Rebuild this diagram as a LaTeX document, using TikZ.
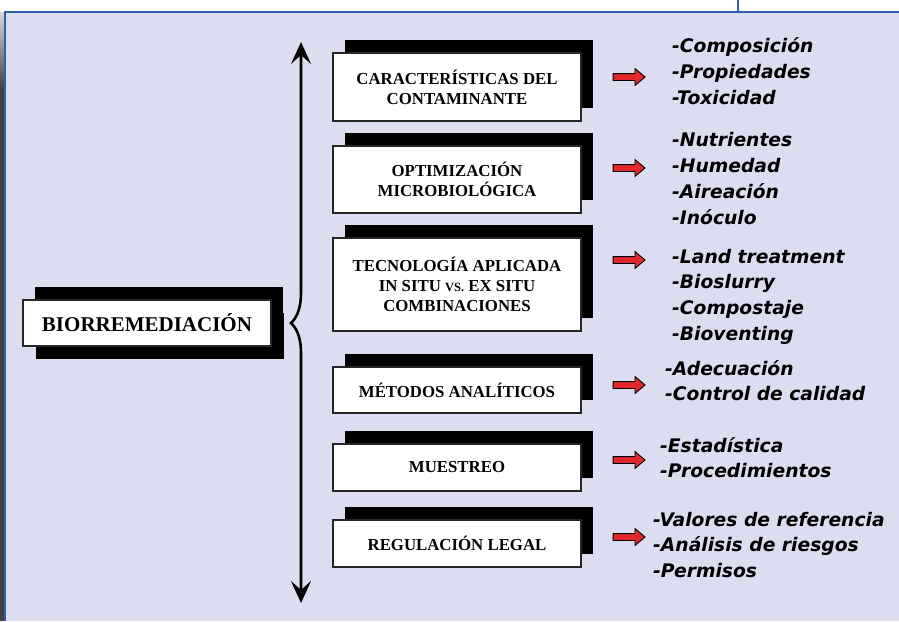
\documentclass[tikz,border=0pt]{standalone}
\usepackage{fontspec}
\setmainfont{Liberation Serif}
\newfontfamily\listfont{DejaVu Sans Bold Oblique}
\usetikzlibrary{shadows,shapes.arrows,arrows.meta}
\definecolor{fondo}{RGB}{220,221,240}
\definecolor{borde}{RGB}{45,95,170}
\definecolor{rojo}{RGB}{225,40,45}

\begin{document}
\begin{tikzpicture}[x=1pt,y=-1pt,
    caja/.style={rectangle, draw=black!85, line width=1.1pt, fill=white,
        minimum width=248pt, align=center, inner sep=2pt,
        font=\fontsize{16.8}{20}\selectfont\bfseries,
        drop shadow={shadow xshift=12pt, shadow yshift=13pt, fill=black, opacity=1}},
    flecha/.style={single arrow, draw=black, line width=0.9pt, fill=rojo,
        inner xsep=0pt, inner ysep=3pt, minimum height=32pt,
        single arrow head extend=5pt, single arrow tip angle=80},
    lista/.style={anchor=west, align=left, inner sep=0pt,
        font=\listfont\fontsize{18.7}{25.7}\selectfont},
    llave/.style={line width=2.6pt,
        {Stealth[length=22pt,width=20pt,inset=9pt]}-{Stealth[length=22pt,width=20pt,inset=9pt]}}]
            \useasboundingbox (0,0) rectangle (899,621);
            % Frame
            \fill[white] (0,0) rectangle (899,621);
            \shade[top color=black!15, bottom color=black!75] (0,12) rectangle (5,90);
            \fill[black!75] (0,90) rectangle (5,621);
            \fill[fondo] (5,12) rectangle (899,621);
            \draw[borde, line width=2pt] (5,621) -- (5,12) -- (899,12);
            \draw[borde, line width=1.5pt] (738,0) -- (738,12);

            % Nodes
            \node[caja, minimum height=46pt, font=\fontsize{21}{24}\selectfont\bfseries,
                drop shadow={shadow xshift=13pt, shadow yshift=-13pt, fill=black, opacity=1}]
                (bio) at (147,323) {BIORREMEDIACIÓN};
            \node[caja, minimum height=68pt] (c1) at (457,87) {CARACTERÍSTICAS DEL\\CONTAMINANTE};
            \node[caja, minimum height=67pt] (c2) at (457,179.5) {OPTIMIZACIÓN\\MICROBIOLÓGICA};
            \node[caja, minimum height=93pt] (c3) at (457,284.5)
                {TECNOLOGÍA APLICADA\\IN SITU {\fontsize{12.5}{20}\selectfont VS.} EX SITU\\COMBINACIONES};
            \node[caja, minimum height=46pt] (c4) at (457,390) {MÉTODOS ANALÍTICOS};
            \node[caja, minimum height=47pt] (c5) at (457,467.5) {MUESTREO};
            \node[caja, minimum height=47pt] (c6) at (457,543.5) {REGULACIÓN LEGAL};

            \node[flecha] (a1) at (627,77) {};
            \node[flecha] (a2) at (627,168) {};
            \node[flecha] (a3) at (627,260) {};
            \node[flecha] (a4) at (627,385) {};
            \node[flecha] (a5) at (627,460) {};
            \node[flecha] (a6) at (627,537) {};

            \node[lista] (l1) at (672,71) {-Composición\\-Propiedades\\-Toxicidad};
            \node[lista] (l2) at (672,178.5) {-Nutrientes\\-Humedad\\-Aireación\\-Inóculo};
            \node[lista] (l3) at (672,296.5) {-Land treatment\\-Bioslurry\\-Compostaje\\-Bioventing};
            \node[lista] (l4) at (665,380.5) {-Adecuación\\-Control de calidad};
            \node[lista] (l5) at (660,457.5) {-Estadística\\-Procedimientos};
            \node[lista] (l6) at (653,545) {-Valores de referencia\\-Análisis de riesgos\\-Permisos};

            % Brace
            \coordinate (bt) at (301,42);
            \coordinate (bb) at (301,603);
            \coordinate (pico) at (291,323);
            \draw[llave] (bb) -- (301,354) .. controls (301,334) and (295,327) .. (pico)
                .. controls (295,319) and (301,312) .. (301,292) -- (bt);
        \end{tikzpicture}
\end{document}
